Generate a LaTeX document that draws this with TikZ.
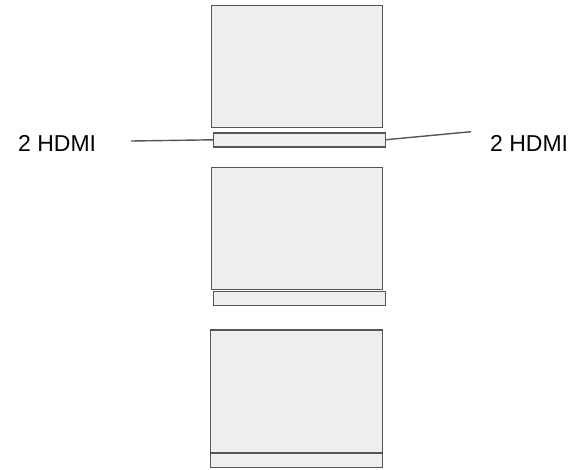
\documentclass[tikz,border=0pt]{standalone}
\usepackage{fontspec}
\setmainfont{Liberation Sans}
\begin{document}
\begin{tikzpicture}[x=1pt,y=-1pt]
		\definecolor{edgegray}{RGB}{85,85,85}
		\definecolor{panelfill}{RGB}{238,238,238}
		\tikzstyle{panel}=[rectangle,draw=edgegray,fill=panelfill,line width=1.4pt,inner sep=0pt,outer sep=0pt,minimum width=171pt,minimum height=122pt]
		\tikzstyle{strip}=[panel,minimum width=172pt,minimum height=14pt]
		\tikzstyle{lbl}=[inner sep=0pt,anchor=base west,font=\fontsize{23}{27}\selectfont]
		\useasboundingbox (0,0) rectangle (577,469);
		\begin{scope}
		\node[panel] (p1) at (296.7,66.3)  {};
		\node[strip] (s1) at (299.2,139.8) {};
		\node[panel] (p2) at (296.7,228.3) {};
		\node[strip] (s2) at (299.2,298.2) {};
		\node[panel,minimum width=172pt,minimum height=123pt] (p3) at (296.5,391.3) {};
		\node[strip] (s3) at (296.5,460.5) {};
		\end{scope}
		
		\node[lbl] (hdmiL) at (18,151.7)  {2 HDMI};
		\node[lbl] (hdmiR) at (490,151.7) {2 HDMI};
		\coordinate (cL) at (131,141);
		\coordinate (cR) at (471,131.7);
		
		\path[-,draw=edgegray,line width=1.4pt]
		(cL) edge (s1.west)
		(s1.east) edge (cR)
		;
		
		\end{tikzpicture}
\end{document}
